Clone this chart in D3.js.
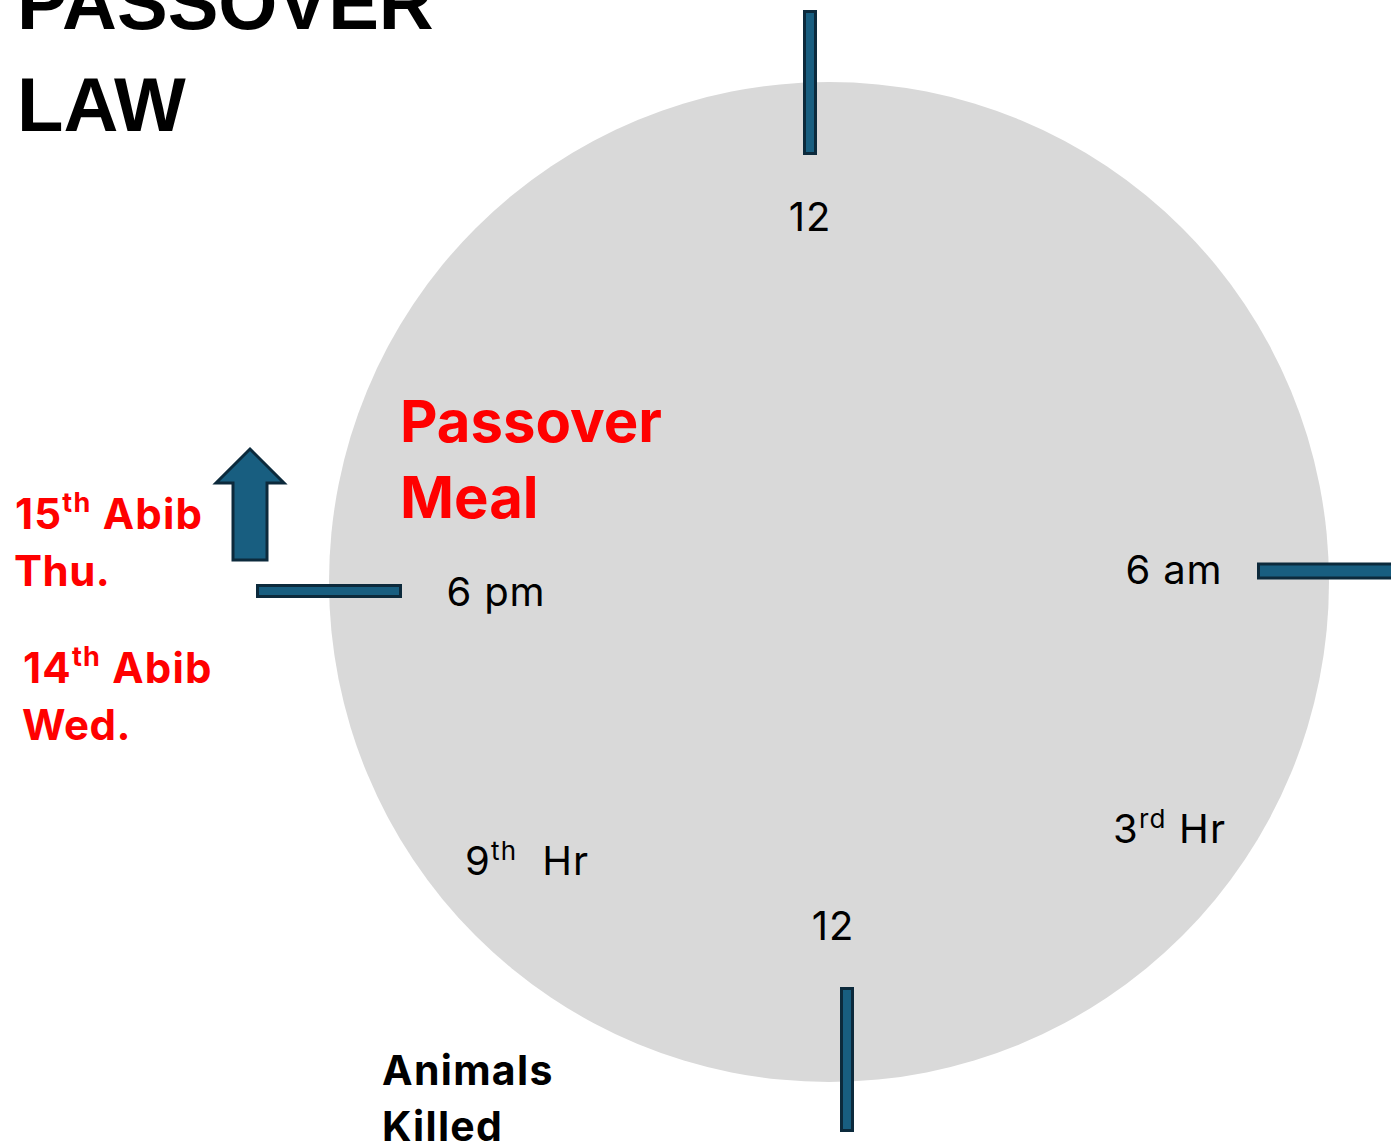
<!DOCTYPE html>
<html><head><meta charset="utf-8">
<script src="https://cdn.jsdelivr.net/npm/d3@7"></script>
<style>html,body{margin:0;padding:0;background:#fff;overflow:hidden}</style>
</head><body>
<script>
// ---- data ----
const hours = [0, 6, 12, 18];
const hourLabels = ["12", "6 am", "12", "6 pm"];
const hourNotes = [[3, "3", "rd", " Hr"], [15, "9", "th", "  Hr"]];
const dayLabels = [["15", "th", " Abib", "Thu."], ["14", "th", " Abib", "Wed."]];
const titleLines = ["PASSOVER", "LAW"];
const mealLines = ["Passover", "Meal"];
const killedLines = ["Animals", "Killed"];

(function () {
// ---- layout ----
const W = 1391, H = 1147;
const cx = 829, cy = 582, R = 500;
const svg = d3.select("body").append("svg").attr("width", W).attr("height", H);
const angle = d3.scaleLinear().domain([0, 24]).range([0, 2 * Math.PI]);
const barFill = "#185e80", barStroke = "#0c2a3c";
const barGeom = [ // inner, outer radius, tangential shift, thickness
  {ri: 427, ro: 572, t: -19, w: 14},
  {ri: 428, ro: 600, t: -11, w: 17},
  {ri: 405, ro: 550, t: -18, w: 14},
  {ri: 427, ro: 573, t: -9, w: 14}
];
const labelPos = [[810, 231], [1174, 584], [833, 940], [496, 606]];
const notePos = [[1113, 843], [465, 875]];
const dayPos = [[15, 529], [23, 683]];
const sans = "Inter, 'Open Sans', sans-serif";

svg.append("circle").attr("cx", cx).attr("cy", cy).attr("r", R).attr("fill", "#d9d9d9");

hours.forEach((h, i) => {
  const a = angle(h), g = barGeom[i];
  const ux = Math.sin(a), uy = -Math.cos(a);
  const tx = Math.cos(a), ty = Math.sin(a);
  const x1 = cx + ux * g.ri + tx * g.t, y1 = cy + uy * g.ri + ty * g.t;
  const x2 = cx + ux * g.ro + tx * g.t, y2 = cy + uy * g.ro + ty * g.t;
  const vertical = Math.abs(uy) > 0.5;
  const rx = vertical ? x1 - g.w / 2 : Math.min(x1, x2);
  const ry = vertical ? Math.min(y1, y2) : y1 - g.w / 2;
  const rw = vertical ? g.w : Math.abs(x2 - x1);
  const rh = vertical ? Math.abs(y2 - y1) : g.w;
  svg.append("rect").attr("x", rx + 1.5).attr("y", ry + 1.5)
    .attr("width", rw - 3).attr("height", rh - 3)
    .attr("fill", barFill).attr("stroke", barStroke).attr("stroke-width", 3);
});

svg.selectAll("text.hour").data(hourLabels).join("text")
  .attr("class", "hour")
  .attr("x", (d, i) => labelPos[i][0]).attr("y", (d, i) => labelPos[i][1])
  .attr("text-anchor", "middle")
  .attr("font-family", sans).attr("font-size", 40).attr("letter-spacing", 0.8).attr("fill", "#000")
  .text(d => d);

hourNotes.forEach((n, i) => {
  const t = svg.append("text").attr("x", notePos[i][0]).attr("y", notePos[i][1])
    .attr("font-family", sans).attr("font-size", 40).attr("letter-spacing", 1.2).attr("fill", "#000")
    .attr("xml:space", "preserve").style("white-space", "pre");
  t.append("tspan").text(n[1]);
  t.append("tspan").attr("dy", -15).attr("font-size", 26).text(n[2]);
  t.append("tspan").attr("dy", 15).text(n[3]);
});

svg.selectAll("text.title").data(titleLines).join("text")
  .attr("class", "title")
  .attr("x", 17).attr("y", (d, i) => 29 + i * 102)
  .attr("font-family", "'Liberation Sans', Arial, sans-serif").attr("font-weight", "bold")
  .attr("font-size", 76).attr("fill", "#000").text(d => d);

svg.selectAll("text.meal").data(mealLines).join("text")
  .attr("class", "meal")
  .attr("x", 400).attr("y", (d, i) => 442 + i * 76)
  .attr("font-family", sans).attr("font-weight", "bold")
  .attr("font-size", 58).attr("fill", "#ff0000").text(d => d);

dayLabels.forEach((d, i) => {
  const t = svg.append("text").attr("x", dayPos[i][0]).attr("y", dayPos[i][1])
    .attr("font-family", sans).attr("font-weight", "bold")
    .attr("font-size", 42).attr("letter-spacing", 1.2).attr("fill", "#ff0000")
    .attr("xml:space", "preserve").style("white-space", "pre");
  t.append("tspan").text(d[0]);
  t.append("tspan").attr("dy", -17).attr("font-size", 27).text(d[1]);
  t.append("tspan").attr("dy", 17).text(d[2]);
  svg.append("text").attr("x", dayPos[i][0] - 1).attr("y", dayPos[i][1] + 57)
    .attr("font-family", sans).attr("font-weight", "bold")
    .attr("font-size", 42).attr("letter-spacing", 0.5).attr("fill", "#ff0000").text(d[3]);
});

svg.selectAll("text.killed").data(killedLines).join("text")
  .attr("class", "killed")
  .attr("x", 382).attr("y", (d, i) => 1085 + i * 56)
  .attr("font-family", sans).attr("font-weight", "bold")
  .attr("font-size", 41).attr("letter-spacing", 1.3).attr("fill", "#000").text(d => d);

const ax = 250, aTop = 449, headBase = 483, aBot = 560, headHalf = 34, shaftHalf = 17;
svg.append("path")
  .attr("d", d3.line()([[ax, aTop], [ax + headHalf, headBase], [ax + shaftHalf, headBase], [ax + shaftHalf, aBot],
    [ax - shaftHalf, aBot], [ax - shaftHalf, headBase], [ax - headHalf, headBase]]) + "Z")
  .attr("fill", barFill).attr("stroke", barStroke).attr("stroke-width", 3).attr("stroke-linejoin", "miter");
})();
</script>
</body></html>
